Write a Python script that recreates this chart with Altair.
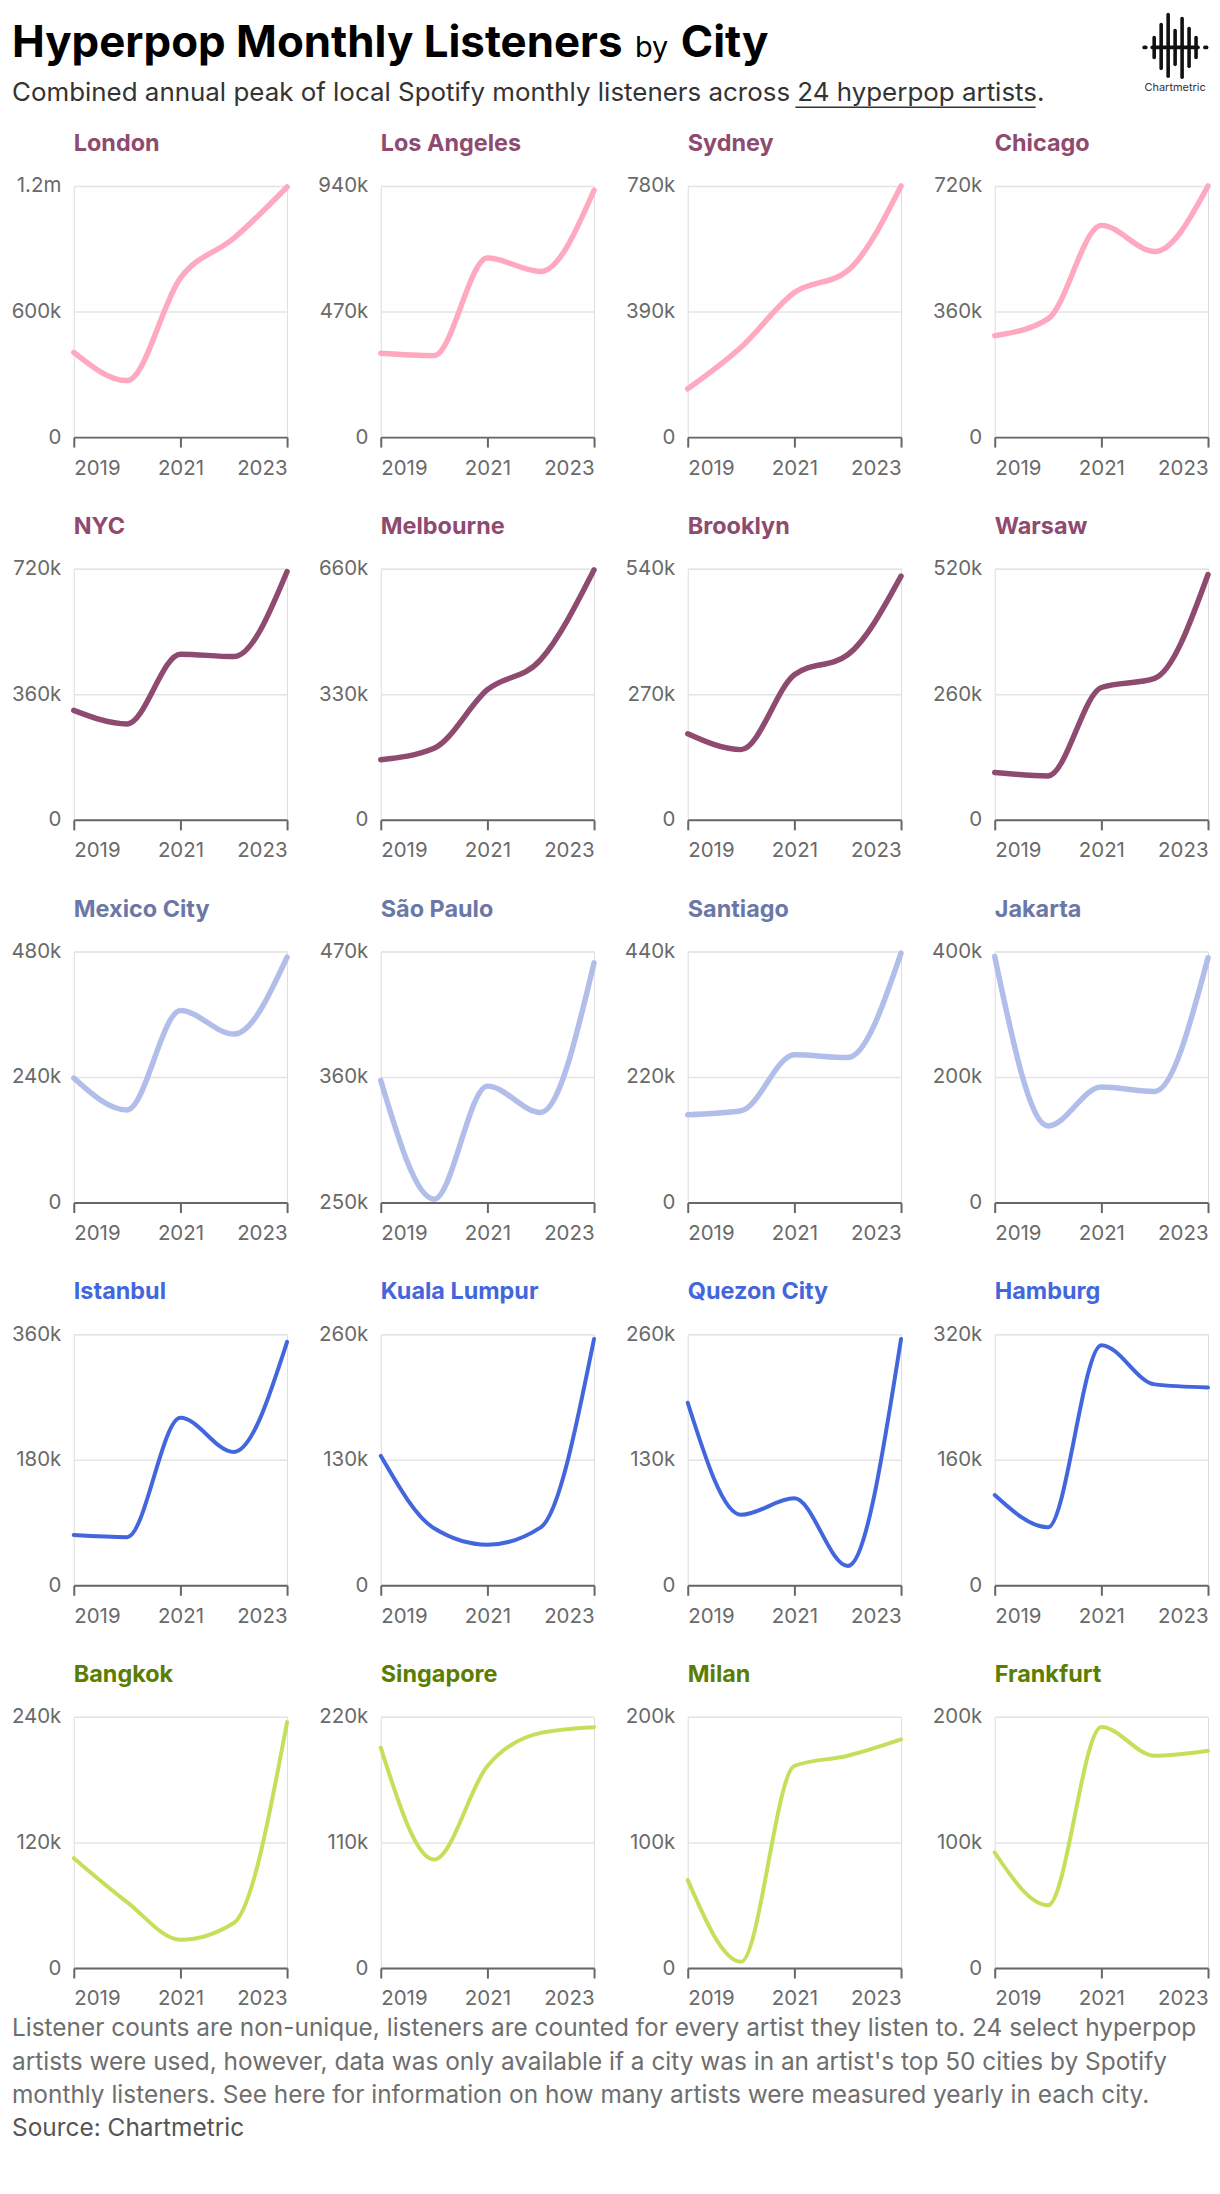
import altair as alt
import pandas as pd

# ---------------- data ----------------
years = [2019, 2020, 2021, 2022, 2023]
x_ticks = [2019, 2021, 2023]

cities = ["London", "Los Angeles", "Sydney", "Chicago",
          "NYC", "Melbourne", "Brooklyn", "Warsaw",
          "Mexico City", "São Paulo", "Santiago", "Jakarta",
          "Istanbul", "Kuala Lumpur", "Quezon City", "Hamburg",
          "Bangkok", "Singapore", "Milan", "Frankfurt"]

london = [405000, 270000, 760000, 950000, 1195000]
los_angeles = [314000, 305000, 670000, 620000, 924000]
sydney = [150000, 279000, 449000, 517000, 780000]
chicago = [291000, 339000, 607000, 532000, 720000]
nyc = [314000, 275000, 475000, 468000, 712000]
melbourne = [158000, 188000, 342000, 421000, 657000]
brooklyn = [185000, 151000, 312000, 355000, 524000]
warsaw = [98000, 91000, 274000, 293000, 508000]
mexico_city = [238000, 177000, 367000, 322000, 469000]
sao_paulo = [357000, 253000, 352000, 329000, 460000]
santiago = [154000, 161000, 259000, 254000, 437000]
jakarta = [392000, 122000, 184000, 177000, 390000]
istanbul = [72000, 69000, 240000, 191000, 349000]
kuala_lumpur = [134000, 59000, 42000, 60000, 255000]
quezon_city = [189000, 73000, 90000, 20000, 255000]
hamburg = [115000, 74000, 306000, 256000, 252000]
bangkok = [105000, 63000, 27000, 43000, 235000]
singapore = [193000, 95000, 177000, 206000, 211000]
milan = [70000, 5000, 161000, 169000, 182000]
frankfurt = [92000, 50000, 192000, 169000, 173000]

series = [london, los_angeles, sydney, chicago,
          nyc, melbourne, brooklyn, warsaw,
          mexico_city, sao_paulo, santiago, jakarta,
          istanbul, kuala_lumpur, quezon_city, hamburg,
          bangkok, singapore, milan, frankfurt]

y_min = [0, 0, 0, 0,
         0, 0, 0, 0,
         0, 250000, 0, 0,
         0, 0, 0, 0,
         0, 0, 0, 0]
y_max = [1200000, 940000, 780000, 720000,
         720000, 660000, 540000, 520000,
         480000, 470000, 440000, 400000,
         360000, 260000, 260000, 320000,
         240000, 220000, 200000, 200000]

title_colors = ["#8E4A6F", "#8E4A6F", "#6B78A7", "#4466DD", "#5B7D00"]
line_colors = ["#FFA9C1", "#8E4A6F", "#B2BEEA", "#4466DD", "#C4E05A"]
line_widths = [5.5, 5.5, 5.5, 4, 4]

title_text = "Hyperpop Monthly Listeners"
by_text = "by"
city_text = "City"
subtitle_text = "Combined annual peak of local Spotify monthly listeners across 24 hyperpop artists."
footer_lines = [
    "Listener counts are non-unique, listeners are counted for every artist they listen to. 24 select hyperpop",
    "artists were used, however, data was only available if a city was in an artist's top 50 cities by Spotify",
    "monthly listeners. See here for information on how many artists were measured yearly in each city.",
]
source_text = "Source: Chartmetric"

# ---------------- layout constants ----------------
W, H = 214, 252
FONT = "Inter"
LABEL_EXPR = ("datum.value >= 1000000 ? format(datum.value / 1000000, '.1~f') + 'm' : "
              "(datum.value == 0 ? '0' : format(datum.value / 1000, 'd') + 'k')")

one = pd.DataFrame({"a": [0]})


def deco_text(text, x, y, size, weight="normal", color="#000", align="left"):
    return alt.Chart(one).mark_text(
        text=text, font=FONT, fontSize=size, fontWeight=weight, color=color,
        align=align, baseline="alphabetic"
    ).encode(x=alt.value(x), y=alt.value(y))


def deco_rule(x, y, x2=None, y2=None, width=1.5, color="#000", cap="round"):
    enc = dict(x=alt.value(x), y=alt.value(y))
    if x2 is not None:
        enc["x2"] = alt.value(x2)
    if y2 is not None:
        enc["y2"] = alt.value(y2)
    return alt.Chart(one).mark_rule(strokeWidth=width, color=color, strokeCap=cap).encode(**enc)


# origin of the London plot area on the page is (72, 182)
OX, OY = 72, 182


def header_layers():
    layers = [
        deco_text(title_text, 10 - OX, 53 - OY, 44, "bold"),
        deco_text(by_text, 635 - OX, 53 - OY, 29, "normal"),
        deco_text(city_text, 681 - OX, 53 - OY, 44, "bold"),
        deco_text(subtitle_text, 10 - OX, 97 - OY, 26, "normal", "#333333"),
        deco_rule(796 - OX, 103 - OY, x2=1037 - OX, width=1.5, color="#333333", cap="butt"),
    ]
    # Chartmetric logo (waveform)
    bars = [(1156, 33, 53), (1163, 20, 64), (1170, 10, 72), (1177, 26, 60),
            (1184, 14, 73), (1191, 24, 62), (1198, 33, 53)]
    for bx, by1, by2 in bars:
        layers.append(deco_rule(bx - OX, by1 - OY, y2=by2 - OY, width=3.6, color="#111111"))
    layers.append(deco_rule(1154 - OX, 43 - OY, x2=1200 - OX, width=3.6, color="#111111"))
    layers.append(deco_rule(1146 - OX, 43 - OY, x2=1147.5 - OX, width=3.8, color="#111111"))
    layers.append(deco_rule(1207 - OX, 43 - OY, x2=1208.5 - OX, width=3.8, color="#111111"))
    layers.append(deco_text("Chartmetric", 1177 - OX, 87 - OY, 11, "normal", "#333333", "center"))
    return layers


def footer_layers():
    layers = []
    baselines = [2038, 2072, 2105]
    for t, b in zip(footer_lines, baselines):
        layers.append(deco_text(t, 10 - OX, b - OY, 24.5, "normal", "#6E6E6E"))
    layers.append(deco_text(source_text, 10 - OX, 2139 - OY, 24.5, "normal", "#555555"))
    return layers


def panel(i):
    row = i // 4
    lo, hi = y_min[i], y_max[i]
    mid = (lo + hi) / 2
    df = pd.DataFrame({"year": years, "listeners": series[i]})
    line = alt.Chart(df).mark_line(
        interpolate="monotone", strokeWidth=line_widths[row],
        strokeCap="round", strokeJoin="round", color=line_colors[row]
    ).encode(
        x=alt.X("year:Q",
                scale=alt.Scale(domain=[2019, 2023], nice=False, zero=False),
                axis=alt.Axis(values=x_ticks, format="d", title=None, labelFlush=True,
                              grid=False, domainColor="#666666", domainWidth=2,
                              tickColor="#666666", tickWidth=2, tickSize=10,
                              labelColor="#6A6A6A", labelFont=FONT, labelFontSize=20.5,
                              labelPadding=11)),
        y=alt.Y("listeners:Q",
                scale=alt.Scale(domain=[lo, hi], nice=False, zero=False),
                axis=alt.Axis(values=[lo, mid, hi], labelExpr=LABEL_EXPR, title=None,
                              domain=False, ticks=False, grid=True,
                              gridColor="#E4E4E4", gridWidth=1.5,
                              labelColor="#6A6A6A", labelFont=FONT, labelFontSize=20.5,
                              labelPadding=13)),
    )
    name = alt.Chart(pd.DataFrame({"name": [cities[i]]})).mark_text(
        font=FONT, fontSize=23.5, fontWeight="bold", color=title_colors[row],
        align="left", baseline="alphabetic"
    ).encode(text="name:N", x=alt.value(0), y=alt.value(-35))
    layers = [line, name]
    if i == 0:
        layers += header_layers() + footer_layers()
    return alt.layer(*layers).properties(width=W, height=H)


panels = [panel(i) for i in range(len(cities))]

chart = alt.concat(
    *panels, columns=4, spacing={"row": 132, "column": 94}, bounds="flush"
).properties(
    padding={"left": 2, "top": 0, "right": 0, "bottom": 0}
).configure_view(stroke=None).configure(background="white")

chart.save("out.html", embed_options={"renderer": "svg", "actions": False})
